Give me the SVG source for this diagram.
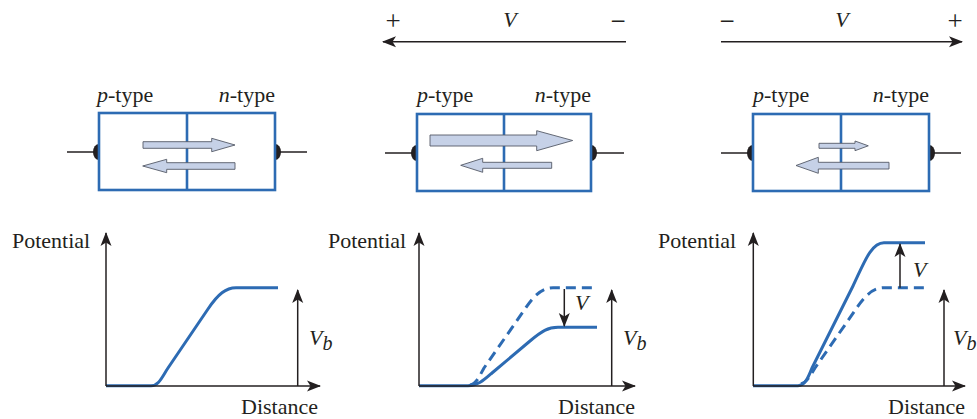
<svg xmlns="http://www.w3.org/2000/svg" width="977" height="419" viewBox="0 0 977 419">
<style>
text{font-family:'Liberation Serif','DejaVu Serif','Times New Roman',serif;font-size:22px;fill:#231f20}
.it{font-style:italic}
.sub{font-size:20px}
.sign{font-size:27px}
.box{fill:none;stroke:#2d6bb3;stroke-width:2.6}
.wire{stroke:#231f20;stroke-width:1.5;fill:none}
.blob{fill:#231f20}
.flow{fill:#c6d1e7;stroke:#555a66;stroke-width:0.9}
.ax{stroke:#231f20;stroke-width:1.5;fill:none}
.cv{stroke:#2d6bb3;stroke-width:3;fill:none;stroke-linejoin:round}
.dash{stroke-dasharray:10 6}
</style>
<defs>
<marker id="ah" markerUnits="userSpaceOnUse" markerWidth="14" markerHeight="12" viewBox="0 0 14 12" refX="13" refY="6" orient="auto">
<path d="M0,0.5 L14,6 L0,11.5 L3.5,6 Z" fill="#231f20"/>
</marker>
</defs>

<g id="junction1">
<line class="wire" x1="67" y1="152" x2="99" y2="152"/>
<line class="wire" x1="275" y1="152" x2="307" y2="152"/>
<path class="blob" d="M99,144 A6,8 0 0 0 99,160 Z"/>
<path class="blob" d="M275,144 A6,8 0 0 1 275,160 Z"/>
<rect class="box" x="99" y="113" width="176" height="77"/>
<line class="box" x1="187" y1="113" x2="187" y2="190"/>
<path class="flow" d="M143,141.7 H211.7 V138.3 L235,145 L211.7,151.7 V148.3 H143 Z"/>
<path class="flow" d="M235,162.7 H166.7 V159.3 L142.7,166 L166.7,172.7 V169.3 H235 Z"/>
<text x="97" y="102"><tspan class="it">p</tspan>-type</text>
<text x="275" y="102" text-anchor="end"><tspan class="it">n</tspan>-type</text>
</g>

<g id="junction2">
<line class="wire" x1="385" y1="153" x2="417" y2="153"/>
<line class="wire" x1="591" y1="153" x2="624" y2="153"/>
<path class="blob" d="M417,145 A6,8 0 0 0 417,161 Z"/>
<path class="blob" d="M591,145 A6,8 0 0 1 591,161 Z"/>
<rect class="box" x="417" y="114" width="174" height="77"/>
<line class="box" x1="504" y1="114" x2="504" y2="191"/>
<path class="flow" d="M430,135 H536.7 V130.7 L572.7,140.5 L536.7,150.7 V146 H430 Z"/>
<path class="flow" d="M551.7,162.3 H482.7 V158.3 L460.7,165.3 L482.7,172.3 V168.3 H551.7 Z"/>
<text x="417" y="102"><tspan class="it">p</tspan>-type</text>
<text x="591" y="102" text-anchor="end"><tspan class="it">n</tspan>-type</text>
</g>

<g id="junction3">
<line class="wire" x1="721" y1="153" x2="753" y2="153"/>
<line class="wire" x1="929" y1="153" x2="961" y2="153"/>
<path class="blob" d="M753,145 A6,8 0 0 0 753,161 Z"/>
<path class="blob" d="M929,145 A6,8 0 0 1 929,161 Z"/>
<rect class="box" x="753" y="114" width="176" height="77"/>
<line class="box" x1="841" y1="114" x2="841" y2="191"/>
<path class="flow" d="M819,143.3 H855 V141 L868.3,145.8 L855,150.7 V148.3 H819 Z"/>
<path class="flow" d="M889,162.3 H818.3 V157.3 L796,165.5 L818.3,173.3 V169 H889 Z"/>
<text x="753" y="102"><tspan class="it">p</tspan>-type</text>
<text x="929" y="102" text-anchor="end"><tspan class="it">n</tspan>-type</text>
</g>

<g id="bias2">
<text x="393" y="30" text-anchor="middle" class="sign">+</text>
<text x="510" y="27" text-anchor="middle" class="it">V</text>
<text x="618" y="30" text-anchor="middle" class="sign">−</text>
</g>
<g id="bias3">
<text x="727" y="30" text-anchor="middle" class="sign">−</text>
<text x="842" y="27" text-anchor="middle" class="it">V</text>
<text x="955" y="30" text-anchor="middle" class="sign">+</text>
</g>

<g id="plot1">
<text x="12" y="248">Potential</text>
<text x="241" y="414">Distance</text>
<text x="309" y="345" class="it">V<tspan class="sub" dy="5">b</tspan></text>
<path class="cv" d="M106,385.7 H151 C159,385.7 162,377 168,368 L208,309 C218,294 226,287.7 236,287.7 H278"/>
</g>
<g id="plot2">
<text x="328" y="248">Potential</text>
<text x="558" y="414">Distance</text>
<text x="623" y="345" class="it">V<tspan class="sub" dy="5">b</tspan></text>
<text x="575" y="310" class="it">V</text>
<path class="cv" d="M419,385.7 H468 C478,385.7 484,380 492,373 L530,341 C542,331 548,327.3 558,327.3 H597"/>
<path class="cv dash" d="M470,385 C476,384 479,377 484,368 L525,309 C535,294 543,287.7 553,287.7 H597"/>
</g>
<g id="plot3">
<text x="658" y="248">Potential</text>
<text x="888" y="414">Distance</text>
<text x="953" y="345" class="it">V<tspan class="sub" dy="5">b</tspan></text>
<text x="913" y="277" class="it">V</text>
<path class="cv" d="M753,385.7 H798 C805,385.7 808,378 812,368 L853,286 C864,263 871,242.7 884,242.7 H925"/>
<path class="cv dash" d="M801,384 C807,382 810,376 815,368 L856,309 C866,294 874,287.7 884,287.7 H925"/>
</g>

<g id="connectors">
<line class="ax" x1="626" y1="41.7" x2="383" y2="41.7" marker-end="url(#ah)"/>
<line class="ax" x1="721" y1="41.7" x2="962" y2="41.7" marker-end="url(#ah)"/>
<line class="ax" x1="106" y1="386" x2="106" y2="233" marker-end="url(#ah)"/>
<line class="ax" x1="106" y1="386" x2="320" y2="386" marker-end="url(#ah)"/>
<line class="ax" x1="297.7" y1="386" x2="297.7" y2="290" marker-end="url(#ah)"/>
<line class="ax" x1="419" y1="386" x2="419" y2="233" marker-end="url(#ah)"/>
<line class="ax" x1="419" y1="386" x2="635" y2="386" marker-end="url(#ah)"/>
<line class="ax" x1="611.7" y1="386" x2="611.7" y2="290" marker-end="url(#ah)"/>
<line class="ax" x1="564.3" y1="289" x2="564.3" y2="326" marker-end="url(#ah)"/>
<line class="ax" x1="753.3" y1="386" x2="753.3" y2="233" marker-end="url(#ah)"/>
<line class="ax" x1="753.3" y1="386" x2="965" y2="386" marker-end="url(#ah)"/>
<line class="ax" x1="944" y1="386" x2="944" y2="290" marker-end="url(#ah)"/>
<line class="ax" x1="900" y1="287.7" x2="900" y2="244" marker-end="url(#ah)"/>
</g>
</svg>
